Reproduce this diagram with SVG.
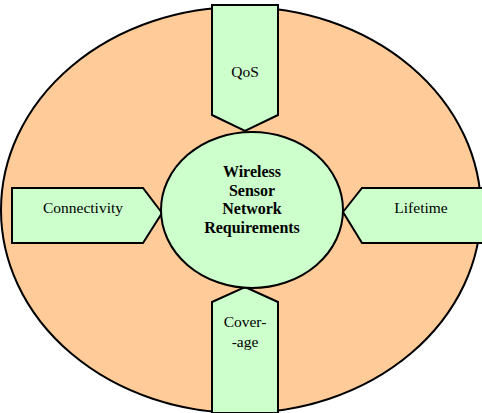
<svg xmlns="http://www.w3.org/2000/svg" width="482" height="413" viewBox="0 0 482 413">
<style>
.bg{fill:#FFCC99;stroke:#000;stroke-width:2}
.n{fill:#CCFFCC;stroke:#000;stroke-width:2;stroke-linejoin:miter}
text{font-family:'Liberation Serif','Times New Roman','DejaVu Serif',serif;font-size:15.5px;fill:#000;text-anchor:middle}
.b{font-weight:bold;font-size:16px}
</style>
<rect width="482" height="413" fill="#fff"/>
<g id="background"><ellipse class="bg" cx="241" cy="210" rx="240" ry="203"/></g>
<g id="connectors"></g>
<g id="qos"><polygon class="n" points="212,5 278,5 278,115 245,131 212,115"/><text x="245" y="77">QoS</text></g>
<g id="connectivity"><polygon class="n" points="12,188 143,188 162,213 143,243 12,243"/><text x="83" y="213">Connectivity</text></g>
<g id="lifetime"><polygon class="n" points="343,212 362,188 484,188 484,243 362,243"/><text x="421" y="213">Lifetime</text></g>
<g id="coverage"><polygon class="n" points="245,287 278,302 278,413 212,413 212,302"/><text x="245" y="327">Cover-</text><text x="245" y="347">-age</text></g>
<g id="center"><ellipse class="n" cx="252" cy="210" rx="91" ry="78"/>
<text class="b" x="252" y="177">Wireless</text>
<text class="b" x="252" y="196">Sensor</text>
<text class="b" x="252" y="214">Network</text>
<text class="b" x="252" y="233">Requirements</text></g>
</svg>
